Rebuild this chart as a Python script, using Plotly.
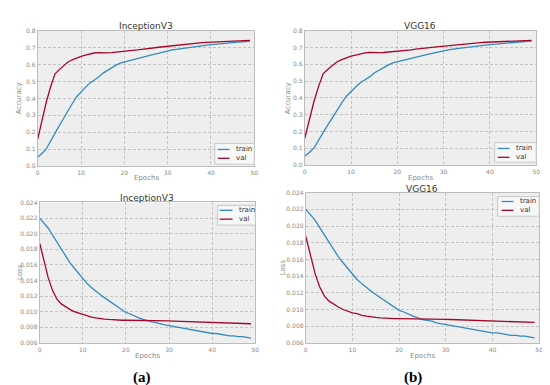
import plotly.graph_objects as go

epochs = list(range(50))

# Accuracy (InceptionV3)
inc_acc_train = [0.054, 0.075, 0.103, 0.145, 0.195, 0.24, 0.285, 0.33, 0.37, 0.41,
                 0.44, 0.465, 0.49, 0.505, 0.525, 0.548, 0.565, 0.578, 0.595, 0.608,
                 0.615, 0.622, 0.63, 0.638, 0.645, 0.648, 0.655, 0.662, 0.668, 0.675,
                 0.68, 0.686, 0.69, 0.694, 0.698, 0.701, 0.704, 0.707, 0.711, 0.714,
                 0.717, 0.72, 0.723, 0.726, 0.728, 0.73, 0.732, 0.734, 0.736, 0.738]
inc_acc_val = [0.16, 0.27, 0.38, 0.47, 0.545, 0.57, 0.595, 0.615, 0.628, 0.64,
               0.648, 0.655, 0.663, 0.668, 0.67, 0.668, 0.669, 0.67, 0.672, 0.675,
               0.678, 0.68, 0.683, 0.686, 0.69, 0.692, 0.694, 0.698, 0.702, 0.705,
               0.708, 0.711, 0.714, 0.717, 0.72, 0.724, 0.726, 0.727, 0.729, 0.731,
               0.732, 0.734, 0.735, 0.737, 0.738, 0.739, 0.74, 0.741, 0.742, 0.742]

# Loss (InceptionV3)
inc_loss_train = [0.0220, 0.0214, 0.0207, 0.0198, 0.0189, 0.0180, 0.0172, 0.0163, 0.0156, 0.0149,
                  0.0142, 0.0136, 0.0131, 0.0126, 0.0122, 0.0118, 0.0114, 0.0110, 0.0106, 0.0102,
                  0.0099, 0.0097, 0.0094, 0.0092, 0.0090, 0.0088, 0.0087, 0.0086, 0.0084, 0.0083,
                  0.0082, 0.0081, 0.0080, 0.0079, 0.0078, 0.0077, 0.0076, 0.0075, 0.0074, 0.0073,
                  0.0072, 0.0072, 0.0071, 0.0070, 0.0069, 0.0069, 0.0068, 0.0068, 0.0067, 0.0066]
inc_loss_val = [0.0188, 0.0164, 0.0143, 0.0127, 0.0116, 0.0110, 0.0106, 0.0103, 0.0100, 0.0098,
                0.0096, 0.0095, 0.0093, 0.0092, 0.0091, 0.00905, 0.0090, 0.00895, 0.0089, 0.0089,
                0.0089, 0.0089, 0.0089, 0.0089, 0.0089, 0.0089, 0.00885, 0.00885, 0.00885, 0.00885,
                0.00882, 0.0088, 0.00878, 0.00876, 0.00874, 0.00872, 0.0087, 0.00868, 0.00866, 0.00864,
                0.00862, 0.0086, 0.00858, 0.00856, 0.00854, 0.00852, 0.0085, 0.00848, 0.00846, 0.00845]

# VGG16 (same curves)
vgg_acc_train = list(inc_acc_train)
vgg_acc_val = list(inc_acc_val)
vgg_loss_train = list(inc_loss_train)
vgg_loss_val = list(inc_loss_val)

series_names = ["train", "val"]
x_ticks = [0, 10, 20, 30, 40, 50]
acc_ticks = [0.0, 0.1, 0.2, 0.3, 0.4, 0.5, 0.6, 0.7, 0.8]
loss_ticks = [0.006, 0.008, 0.010, 0.012, 0.014, 0.016, 0.018, 0.020, 0.022, 0.024]

BLUE = "#348ABD"
RED = "#A60628"
W, H = 550, 385

def px_x(a, b):
    return [a / W, b / W]

def px_y(top, bottom):
    return [1 - bottom / H, 1 - top / H]

# legend boxes: (left, top, right, bottom, line_x0, line_x1, text_x, row_y0, row_y1)
panels = [
    ("x", "y", px_x(28, 247), px_y(19, 157), inc_acc_train, inc_acc_val, "acc",
     (207, 134, 247, 155, 210, 222, 226, 140, 149)),
    ("x2", "y2", px_x(298, 532), px_y(19, 156), vgg_acc_train, vgg_acc_val, "acc",
     (490, 133, 532, 153, 493, 505, 510, 139, 148)),
    ("x3", "y3", px_x(30, 248), px_y(194, 337), inc_loss_train, inc_loss_val, "loss",
     (210, 197, 248, 217, 212, 225, 229, 202, 211)),
    ("x4", "y4", px_x(299, 535), px_y(184, 337), vgg_loss_train, vgg_loss_val, "loss",
     (493, 188, 535, 208, 497, 509, 514, 193, 202)),
]

fig = go.Figure()
layout = dict(
    width=W, height=H, margin=dict(l=0, r=0, t=0, b=0),
    paper_bgcolor="white", plot_bgcolor="#eeeeee",
    font=dict(family="DejaVu Sans", size=6, color="#777777"),
    showlegend=False,
)

shapes = []
annotations = []

for i, (xa, ya, xd, yd, tr, va, kind, lg) in enumerate(panels):
    fig.add_trace(go.Scatter(x=epochs, y=tr, mode="lines", name=series_names[0],
                             line=dict(color=BLUE, width=1.3), xaxis=xa, yaxis=ya))
    fig.add_trace(go.Scatter(x=epochs, y=va, mode="lines", name=series_names[1],
                             line=dict(color=RED, width=1.3), xaxis=xa, yaxis=ya))
    sfx = "" if i == 0 else str(i + 1)
    axis_common = dict(showgrid=True, gridcolor="#c4c4c4", griddash="3px,2px", gridwidth=0.5,
                       showline=True, linecolor="#bcbcbc", linewidth=1, mirror=True,
                       zeroline=False, ticks="", tickfont=dict(size=6, color="#888888"))
    layout["xaxis" + sfx] = dict(domain=xd, range=[0, 50], tickvals=x_ticks,
                                 anchor="y" + sfx, ticklabelstandoff=1, **axis_common)
    if kind == "acc":
        layout["yaxis" + sfx] = dict(domain=yd, range=[0, 0.8], tickvals=acc_ticks,
                                     tickformat=".1f", anchor="x" + sfx, **axis_common)
    else:
        layout["yaxis" + sfx] = dict(domain=yd, range=[0.006, 0.024], tickvals=loss_ticks,
                                     tickformat=".3f", anchor="x" + sfx, **axis_common)
    l, t, r, b, lx0, lx1, tx, ry0, ry1 = lg
    shapes.append(dict(type="rect", xref="paper", yref="paper", x0=l / W, x1=r / W,
                       y0=1 - b / H, y1=1 - t / H, fillcolor="#f7f7f7",
                       line=dict(color="#c8c8c8", width=1)))
    for ry, col, nm in [(ry0, BLUE, series_names[0]), (ry1, RED, series_names[1])]:
        shapes.append(dict(type="line", xref="paper", yref="paper", x0=lx0 / W, x1=lx1 / W,
                           y0=1 - ry / H, y1=1 - ry / H, line=dict(color=col, width=1.3)))
        annotations.append(dict(text=nm, x=tx / W, y=1 - ry / H, xref="paper", yref="paper",
                                showarrow=False, xanchor="left", yanchor="middle",
                                font=dict(size=7, color="#333333", family="DejaVu Sans")))

fig.update_layout(**layout)

texts = [
    ("InceptionV3", 138, 14, 9, "#333333"),
    ("VGG16", 415, 14, 9, "#333333"),
    ("InceptionV3", 139, 189, 9, "#333333"),
    ("VGG16", 417, 180, 9, "#333333"),
    ("Epochs", 138, 169, 7, "#888888"),
    ("Epochs", 415, 169, 7, "#888888"),
    ("Epochs", 139, 350, 7, "#888888"),
    ("Epochs", 417, 350, 7, "#888888"),
]
for t, x, y, s, c in texts:
    annotations.append(dict(text=t, x=x / W, y=1 - y / H, xref="paper", yref="paper",
                            showarrow=False, font=dict(size=s, color=c, family="DejaVu Sans"),
                            xanchor="center", yanchor="middle"))

for t, x, y in [("Accuracy", 10, 88), ("Accuracy", 281, 88), ("Loss", 10, 265), ("Loss", 276, 260)]:
    annotations.append(dict(text=t, x=x / W, y=1 - y / H, xref="paper", yref="paper", showarrow=False,
                            textangle=-90, font=dict(size=7, color="#888888", family="DejaVu Sans"),
                            xanchor="center", yanchor="middle"))

for t, x in [("(a)", 133), ("(b)", 407)]:
    annotations.append(dict(text="<b>" + t + "</b>", x=x / W, y=1 - 372 / H, xref="paper", yref="paper",
                            showarrow=False, font=dict(size=15, color="#000000", family="Liberation Serif"),
                            xanchor="center", yanchor="middle"))

fig.update_layout(shapes=shapes, annotations=annotations)
fig.write_html("out.html")
